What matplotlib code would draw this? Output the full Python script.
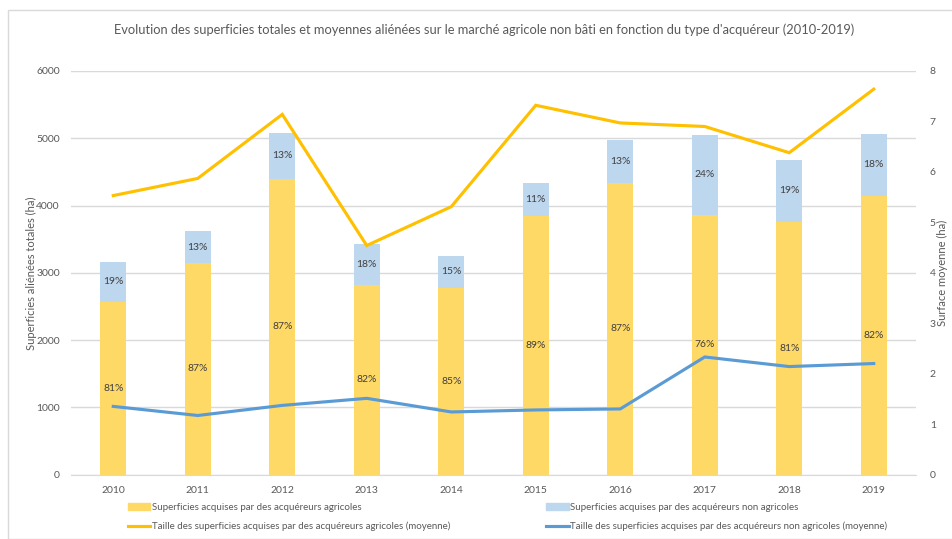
import matplotlib
matplotlib.use("Agg")
import matplotlib.pyplot as plt
from matplotlib.patches import Patch, Rectangle
from matplotlib.lines import Line2D
import numpy as np

plt.rcParams['font.family'] = ['Lato', 'DejaVu Sans']

years = ['2010', '2011', '2012', '2013', '2014', '2015', '2016', '2017', '2018', '2019']
agri_total = [2570, 3150, 4400, 2820, 2780, 3845, 4332, 3862, 3760, 4144]
nonagri_total = [590, 465, 682, 612, 470, 492, 643, 1190, 918, 921]
agri_pct = ['81%', '87%', '87%', '82%', '85%', '89%', '87%', '76%', '81%', '82%']
nonagri_pct = ['19%', '13%', '13%', '18%', '15%', '11%', '13%', '24%', '19%', '18%']
agri_mean = [5.53, 5.87, 7.14, 4.54, 5.31, 7.32, 6.97, 6.90, 6.38, 7.64]
nonagri_mean = [1.35, 1.17, 1.37, 1.51, 1.24, 1.28, 1.30, 2.33, 2.14, 2.20]

title = "Evolution des superficies totales et moyennes aliénées sur le marché agricole non bâti en fonction du type d'acquéreur (2010-2019)"
lab_agri = "Superficies acquises par des acquéreurs agricoles"
lab_nonagri = "Superficies acquises par des acquéreurs non agricoles"
lab_agri_mean = "Taille des superficies acquises par des acquéreurs agricoles (moyenne)"
lab_nonagri_mean = "Taille des superficies acquises par des acquéreurs non agricoles (moyenne)"

c_ybar = '#FFD966'
c_bbar = '#BDD7EE'
c_yline = '#FFC000'
c_bline = '#5B9BD5'
c_text = '#595959'

W, H = 952, 539
fig = plt.figure(figsize=(W/100, H/100), dpi=100)
fig.patches.append(Rectangle((8/W, 0), 1, 1 - 10/H, transform=fig.transFigure,
                             fill=False, edgecolor='#D9D9D9', linewidth=1))

ax_w = 916 - 71
ax = fig.add_axes([71/W, 1 - 474.5/H, ax_w/W, (474.5-71)/H])
x = np.arange(len(years))
w = 0.31
ax.bar(x, agri_total, w, color=c_ybar, zorder=2)
ax.bar(x, nonagri_total, w, bottom=agri_total, color=c_bbar, zorder=2)
for i in range(len(years)):
    ax.text(x[i], agri_total[i]/2, agri_pct[i], ha='center', va='center', fontsize=7.5, color='#404040', zorder=5)
    ax.text(x[i], agri_total[i] + nonagri_total[i]/2, nonagri_pct[i], ha='center', va='center', fontsize=7.5, color='#404040', zorder=5)

ax.set_xlim(-0.5, len(years) - 0.5)
ax.set_ylim(0, 6000)
ax.set_yticks(range(0, 6001, 1000))
ax.set_xticks(x)
ax.set_xticklabels(years)
ax.grid(axis='y', color='#D9D9D9', linewidth=1, zorder=0)
ax.set_axisbelow(True)
for s in ['top', 'right', 'left']:
    ax.spines[s].set_visible(False)
ax.spines['bottom'].set_color('#D9D9D9')
ax.tick_params(axis='both', length=0, labelsize=7.5, colors=c_text)
ax.tick_params(axis='y', pad=8)
ax.tick_params(axis='x', pad=8)
ax.set_ylabel("Superficies aliénées totales (ha)", fontsize=8, color=c_text)
ax.yaxis.set_label_coords((37 - 71) / ax_w, 0.5)

ax2 = ax.twinx()
ax2.plot(x, agri_mean, color=c_yline, linewidth=2.25, zorder=3, solid_joinstyle='miter')
ax2.plot(x, nonagri_mean, color=c_bline, linewidth=2.25, zorder=3, solid_joinstyle='miter')
ax2.set_ylim(0, 8)
ax2.set_yticks(range(0, 9))
for s in ['top', 'right', 'left', 'bottom']:
    ax2.spines[s].set_visible(False)
ax2.tick_params(axis='y', length=0, labelsize=7.5, colors=c_text, pad=10)
ax2.set_ylabel("Surface moyenne (ha)", fontsize=8, color=c_text, rotation=90)
ax2.yaxis.set_label_coords((937 - 71) / ax_w, 0.5)

fig.text(0.5 * (110 + 858) / W, 1 - 30/H, title, ha='center', va='center', fontsize=9.3, color=c_text)

handles = [Patch(color=c_ybar), Line2D([], [], color=c_yline, linewidth=2.25),
           Patch(color=c_bbar), Line2D([], [], color=c_bline, linewidth=2.25)]
labels = [lab_agri, lab_agri_mean, lab_nonagri, lab_nonagri_mean]
leg = fig.legend(handles, labels, ncol=2, loc='center left', bbox_to_anchor=(128/W, 1 - 517/H),
                 frameon=False, fontsize=7.0, handlelength=2.3, handleheight=0.7, handletextpad=0.15,
                 columnspacing=9.9, labelspacing=1.0, borderpad=0, borderaxespad=0)
for t in leg.get_texts():
    t.set_color(c_text)

fig.savefig('out.png', dpi=100)
